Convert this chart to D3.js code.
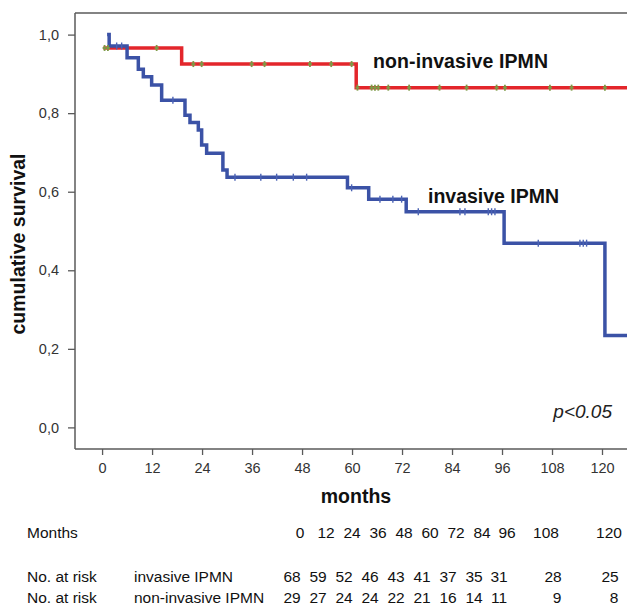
<!DOCTYPE html>
<html>
<head>
<meta charset="utf-8">
<script src="https://cdn.jsdelivr.net/npm/d3@7"></script>
<style>
  html, body { margin: 0; padding: 0; background: #fff; }
  svg { display: block; }
  text { font-family: "Liberation Sans", Arial, sans-serif; }
</style>
</head>
<body>
<svg id="chart" width="627" height="605"></svg>
<script>
// ---- data ----
const yTicks = [0, 0.2, 0.4, 0.6, 0.8, 1.0];
const xTicks = [0, 12, 24, 36, 48, 60, 72, 84, 96, 108, 120];

const invasiveTimes = [1.2, 1.7, 6, 8.7, 9.9, 11.9, 14.3, 19.9, 21.1, 23.1, 23.9, 25.1, 29, 30, 58.9, 64, 73, 96.5, 120.7, 126];
const invasiveSurv  = [1.0, 0.971, 0.941, 0.912, 0.893, 0.872, 0.833, 0.795, 0.776, 0.757, 0.719, 0.698, 0.655, 0.637, 0.610, 0.581, 0.549, 0.469, 0.234, 0.234];
const invasiveCensored = [3.5, 4.7, 17, 31.9, 38.1, 41.9, 45.9, 49.1, 59.9, 66.7, 69.8, 71.9, 75.9, 85.9, 87.1, 92.7, 93.5, 94.3, 104.7, 114.7, 115.5, 116.3];

const nonInvasiveTimes = [0.3, 19.1, 61, 126];
const nonInvasiveSurv  = [0.966, 0.925, 0.865, 0.865];
const nonInvasiveCensored = [0.6, 1.4, 13.1, 21.9, 23.9, 35.9, 39, 49.9, 55, 59.9, 61.3, 64.7, 65.5, 66.3, 68.7, 73.7, 81, 87.5, 94.7, 96.7, 107.5, 112.7, 120.7];

const tableMonths = [0, 12, 24, 36, 48, 60, 72, 84, 96, 108, 120];
const atRiskInvasive = [68, 59, 52, 46, 43, 41, 37, 35, 31, 28, 25];
const atRiskNonInvasive = [29, 27, 24, 24, 22, 21, 16, 14, 11, 9, 8];

// ---- layout ----
const svg = d3.select("#chart");
const pLeft = 75, pRight = 627, pTop = 13, pBottom = 449;
const x = d3.scaleLinear().domain([-6.5, 126]).range([pLeft, pRight]);
const y = d3.scaleLinear().domain([-0.055, 1.055]).range([pBottom, pTop]);

const frameColor = "#5a5a5a";
const red = "#e3262b", blue = "#3b52a6", green = "#7d9a45";

// frame top line
svg.append("line").attr("x1", pLeft).attr("x2", pRight).attr("y1", pTop).attr("y2", pTop)
  .attr("stroke", frameColor).attr("stroke-width", 1.5);

// axes
const yAxis = d3.axisLeft(y).tickValues(yTicks).tickSize(7).tickPadding(9)
  .tickFormat(d => d3.format(".1f")(d).replace(".", ","));
const gy = svg.append("g").attr("transform", `translate(${pLeft},0)`).call(yAxis);
gy.select(".domain").attr("d", `M0,${pTop}V${pBottom}`).attr("stroke", frameColor).attr("stroke-width", 1.5);
gy.selectAll(".tick line").attr("stroke", frameColor).attr("stroke-width", 1.3);
gy.selectAll(".tick text").attr("font-size", 14.5).attr("fill", "#333")
  .attr("font-family", "Liberation Sans, Arial, sans-serif");

const xAxis = d3.axisBottom(x).tickValues(xTicks).tickSize(6).tickPadding(8);
const gx = svg.append("g").attr("transform", `translate(0,${pBottom})`).call(xAxis);
gx.select(".domain").attr("d", `M${pLeft},0H${pRight}`).attr("stroke", frameColor).attr("stroke-width", 1.5);
gx.selectAll(".tick line").attr("stroke", frameColor).attr("stroke-width", 1.3);
gx.selectAll(".tick text").attr("font-size", 14.5).attr("fill", "#333")
  .attr("font-family", "Liberation Sans, Arial, sans-serif");

// axis titles
svg.append("text").attr("x", 356).attr("y", 503).attr("text-anchor", "middle")
  .attr("font-size", 19.5).attr("font-weight", "bold").attr("fill", "#111").text("months");
svg.append("text").attr("transform", "translate(25,244) rotate(-90)").attr("text-anchor", "middle")
  .attr("font-size", 19.5).attr("font-weight", "bold").attr("fill", "#111").text("cumulative survival");

// curves
const line = d3.line().x(d => x(d[0])).y(d => y(d[1])).curve(d3.curveStepAfter);
const survAt = (times, surv, t) => {
  let s = surv[0];
  for (let i = 0; i < times.length; i++) if (times[i] <= t) s = surv[i];
  return s;
};

const redPts = nonInvasiveTimes.map((t, i) => [t, nonInvasiveSurv[i]]);
const bluePts = invasiveTimes.map((t, i) => [t, invasiveSurv[i]]);

svg.append("path").datum(redPts).attr("d", line).attr("fill", "none")
  .attr("stroke", red).attr("stroke-width", 3.5).attr("stroke-linejoin", "miter");
svg.append("path").datum(bluePts).attr("d", line).attr("fill", "none")
  .attr("stroke", blue).attr("stroke-width", 3.5).attr("stroke-linejoin", "miter");

// censor marks
svg.append("g").selectAll("line").data(invasiveCensored).join("line")
  .attr("x1", d => x(d)).attr("x2", d => x(d))
  .attr("y1", d => y(survAt(invasiveTimes, invasiveSurv, d)) - 3.5)
  .attr("y2", d => y(survAt(invasiveTimes, invasiveSurv, d)) + 3.5)
  .attr("stroke", "#4a62b4").attr("stroke-width", 1.4);

const gm = svg.append("g").selectAll("g").data(nonInvasiveCensored).join("g")
  .attr("transform", d => `translate(${x(d)},${y(survAt(nonInvasiveTimes, nonInvasiveSurv, d))})`);
gm.append("line").attr("y1", -3).attr("y2", 3).attr("stroke", green).attr("stroke-width", 1.8);
gm.append("line").attr("x1", -2).attr("x2", 2).attr("stroke", green).attr("stroke-width", 1.8);

// curve labels
svg.append("text").attr("x", 373).attr("y", 68).attr("textLength", 175).attr("font-size", 19.5).attr("font-weight", "bold")
  .attr("fill", "#111").text("non-invasive IPMN");
svg.append("text").attr("x", 428).attr("y", 203).attr("textLength", 131).attr("font-size", 19.5).attr("font-weight", "bold")
  .attr("fill", "#111").text("invasive IPMN");
svg.append("text").attr("x", 612).attr("y", 418).attr("text-anchor", "end").attr("font-size", 19)
  .attr("font-style", "italic").attr("fill", "#222").text("p<0.05");

// at-risk table
const colMonths = [300, 326, 352, 378, 404, 430, 456, 482, 507, 546, 609];
const colValues = [292, 318, 344, 370, 396, 422, 448, 474, 499, 553, 610];
const tfs = 15.5;
const tbl = svg.append("g").attr("fill", "#111").attr("font-size", tfs);
tbl.append("text").attr("x", 27).attr("y", 538).text("Months");
tbl.selectAll(".m").data(tableMonths).join("text").attr("class", "m")
  .attr("x", (d, i) => colMonths[i]).attr("y", 538).attr("text-anchor", "middle").text(d => d);
tbl.append("text").attr("x", 27).attr("y", 582).text("No. at risk");
tbl.append("text").attr("x", 134).attr("y", 582).text("invasive IPMN");
tbl.selectAll(".r1").data(atRiskInvasive).join("text").attr("class", "r1")
  .attr("x", (d, i) => colValues[i]).attr("y", 582).attr("text-anchor", "middle").text(d => d);
tbl.append("text").attr("x", 27).attr("y", 603).text("No. at risk");
tbl.append("text").attr("x", 134).attr("y", 603).text("non-invasive IPMN");
tbl.selectAll(".r2").data(atRiskNonInvasive).join("text").attr("class", "r2")
  .attr("x", (d, i) => colValues[i] + (i >= 9 ? 4 : 0)).attr("y", 603).attr("text-anchor", "middle").text(d => d);
</script>
</body>
</html>
